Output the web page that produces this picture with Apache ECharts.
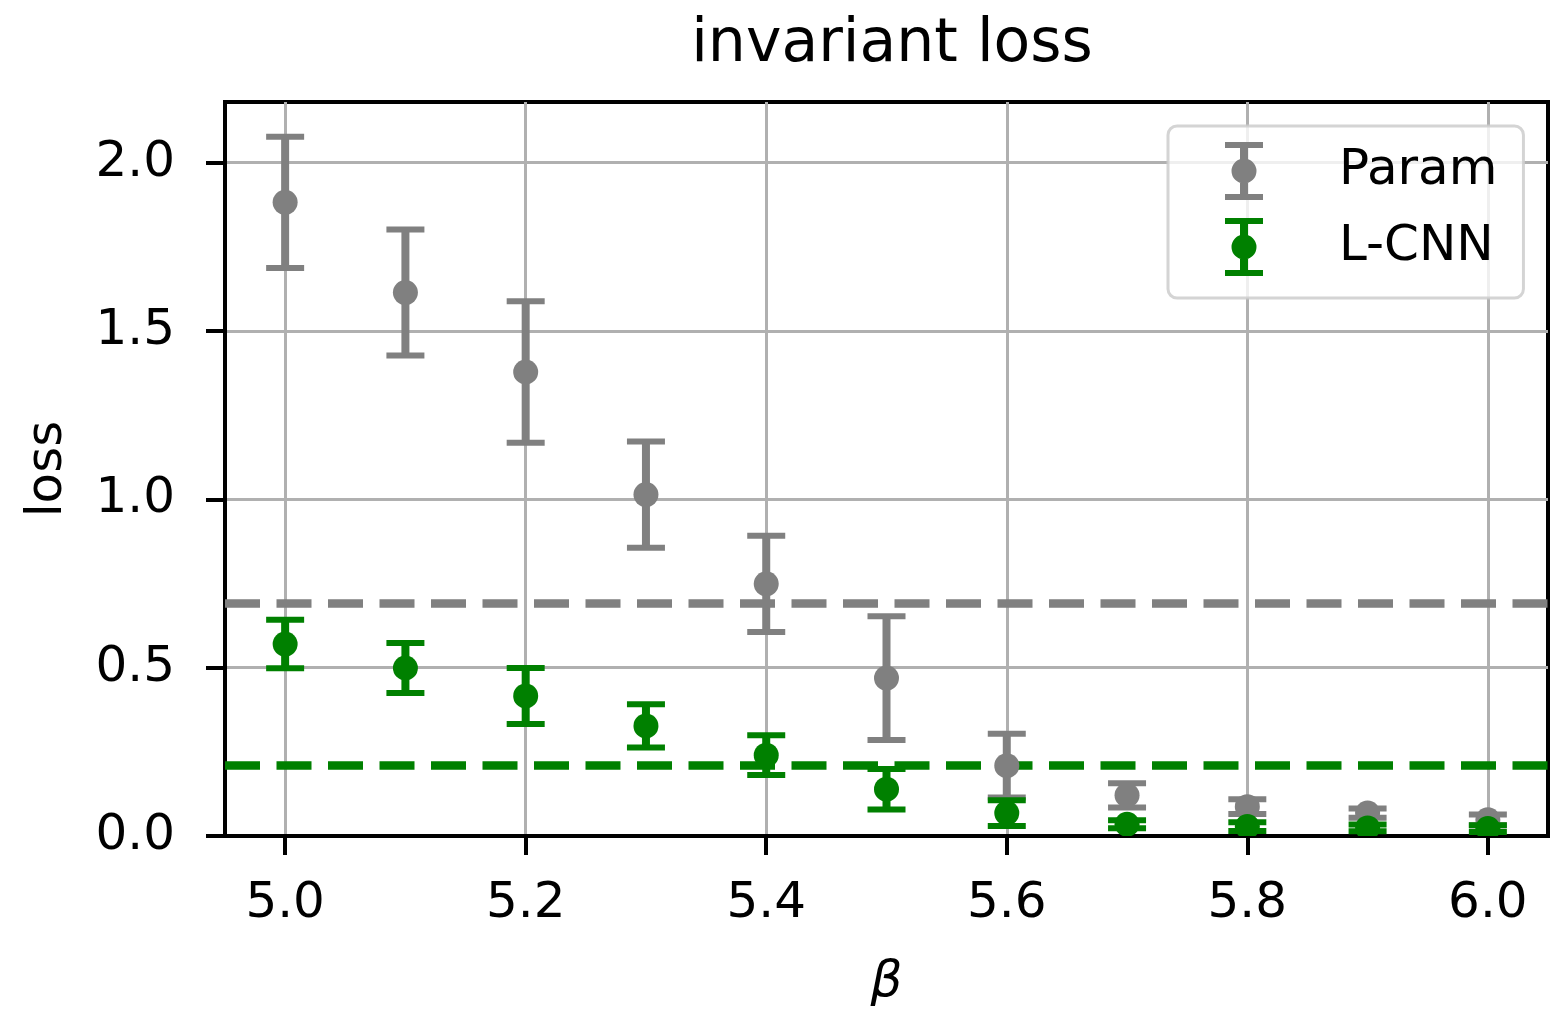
<!DOCTYPE html>
<html>
<head>
<meta charset="utf-8">
<script src="https://cdn.jsdelivr.net/npm/echarts@6/dist/echarts.min.js"></script>
<style>
html,body{margin:0;padding:0;background:#fff;}
#chart{width:1558px;height:1013px;}
</style>
</head>
<body>
<div id="chart"></div>
<script>
const betas = [5.0, 5.1, 5.2, 5.3, 5.4, 5.5, 5.6, 5.7, 5.8, 5.9, 6.0];
const paramMean = [1.882, 1.614, 1.378, 1.014, 0.749, 0.469, 0.209, 0.121, 0.087, 0.068, 0.048];
const paramErr  = [0.195, 0.187, 0.210, 0.158, 0.143, 0.184, 0.095, 0.036, 0.022, 0.014, 0.016];
const lcnnMean  = [0.570, 0.499, 0.416, 0.327, 0.240, 0.139, 0.068, 0.035, 0.028, 0.024, 0.022];
const lcnnErr   = [0.072, 0.074, 0.083, 0.064, 0.059, 0.060, 0.038, 0.012, 0.013, 0.010, 0.010];
const refLines  = [0.693, 0.213];
const xTicks = [5.0, 5.2, 5.4, 5.6, 5.8, 6.0];
const yTicks = [0.0, 0.5, 1.0, 1.5, 2.0];
const seriesNames = ['Param', 'L-CNN'];
const colors = ['#808080', '#008000'];

const FONT = 'DejaVu Sans';
const iconPath = 'path://M0 0H38V6H0Z M0 52H38V58H0Z M15 6H23V52H15Z M6.5 29A12.5 12.5 0 1 1 31.5 29A12.5 12.5 0 1 1 6.5 29Z';

function errData(mean, err) {
  return betas.map((b, i) => [b, mean[i], err[i]]);
}

function makeRender(color) {
  return function (params, api) {
    const x = api.value(0), y = api.value(1), e = api.value(2);
    const top = api.coord([x, y + e]);
    const bot = api.coord([x, y - e]);
    const c = api.coord([x, y]);
    const hw = 19;
    return {
      type: 'group',
      children: [
        {type: 'line', shape: {x1: top[0], y1: top[1], x2: bot[0], y2: bot[1]}, style: {stroke: color, lineWidth: 8}},
        {type: 'line', shape: {x1: top[0] - hw, y1: top[1], x2: top[0] + hw, y2: top[1]}, style: {stroke: color, lineWidth: 6}},
        {type: 'line', shape: {x1: bot[0] - hw, y1: bot[1], x2: bot[0] + hw, y2: bot[1]}, style: {stroke: color, lineWidth: 6}},
        {type: 'circle', shape: {cx: c[0], cy: c[1], r: 12.5}, style: {fill: color}}
      ]
    };
  };
}

function refMark(i) {
  return {
    silent: true,
    symbol: ['none', 'none'],
    z: 1,
    label: {show: false},
    lineStyle: {color: colors[i], width: 8.5, type: [35, 16.5], opacity: 1},
    emphasis: {disabled: true},
    data: [{yAxis: refLines[i]}]
  };
}

const chart = echarts.init(document.getElementById('chart'), null, {renderer: 'canvas'});
chart.setOption({
  animation: false,
  backgroundColor: '#ffffff',
  textStyle: {fontFamily: FONT},
  title: {
    text: 'invariant loss',
    left: 887,
    textAlign: 'center',
    top: 10,
    textStyle: {fontFamily: FONT, fontSize: 60, fontWeight: 'normal', color: '#000'}
  },
  legend: {
    data: seriesNames.map((n, i) => ({name: n, icon: iconPath, itemStyle: {color: colors[i]}})),
    orient: 'vertical',
    left: 1168,
    top: 126,
    padding: [16, 26, 22, 57],
    itemWidth: 38,
    itemHeight: 58,
    itemGap: 18,
    backgroundColor: 'rgba(255,255,255,0.8)',
    borderColor: 'rgba(204,204,204,0.85)',
    borderWidth: 3,
    borderRadius: 9,
    selectedMode: false,
    textStyle: {fontFamily: FONT, fontSize: 50, color: '#000', padding: [0, 0, 0, 71]}
  },
  grid: {
    left: 225, right: 10, top: 102, bottom: 176,
    show: true, borderColor: '#000', borderWidth: 4, backgroundColor: 'transparent'
  },
  xAxis: {
    type: 'value',
    min: 4.95,
    max: 6.05,
    name: 'β',
    nameLocation: 'middle',
    nameGap: 122,
    nameTextStyle: {fontFamily: FONT, fontSize: 50, fontStyle: 'italic', color: '#000'},
    axisLine: {show: true, onZero: false, lineStyle: {color: '#000', width: 4}},
    axisTick: {show: true, length: 19, customValues: xTicks, lineStyle: {color: '#000', width: 4}},
    axisLabel: {show: true, customValues: xTicks, margin: 43, fontFamily: FONT, fontSize: 50, color: '#000',
      formatter: v => Number(v).toFixed(1)},
    splitLine: {show: true, lineStyle: {color: '#b0b0b0', width: 3}}
  },
  yAxis: {
    type: 'value',
    min: 0,
    max: 2.18,
    name: 'loss',
    nameLocation: 'middle',
    nameRotate: 90,
    nameGap: 152,
    nameTextStyle: {fontFamily: FONT, fontSize: 50, color: '#000'},
    axisLine: {show: true, onZero: false, lineStyle: {color: '#000', width: 4}},
    axisTick: {show: true, length: 19, customValues: yTicks, lineStyle: {color: '#000', width: 4}},
    axisLabel: {show: true, customValues: yTicks, margin: 50, fontFamily: FONT, fontSize: 50, color: '#000',
      formatter: v => Number(v).toFixed(1)},
    splitLine: {show: true, lineStyle: {color: '#b0b0b0', width: 3}}
  },
  series: [
    {
      name: seriesNames[0],
      type: 'custom',
      clip: true,
      z: 3,
      itemStyle: {color: colors[0]},
      renderItem: makeRender(colors[0]),
      encode: {x: 0, y: 1},
      data: errData(paramMean, paramErr),
      markLine: refMark(0)
    },
    {
      name: seriesNames[1],
      type: 'custom',
      clip: true,
      z: 4,
      itemStyle: {color: colors[1]},
      renderItem: makeRender(colors[1]),
      encode: {x: 0, y: 1},
      data: errData(lcnnMean, lcnnErr),
      markLine: refMark(1)
    }
  ]
});
</script>
</body>
</html>
